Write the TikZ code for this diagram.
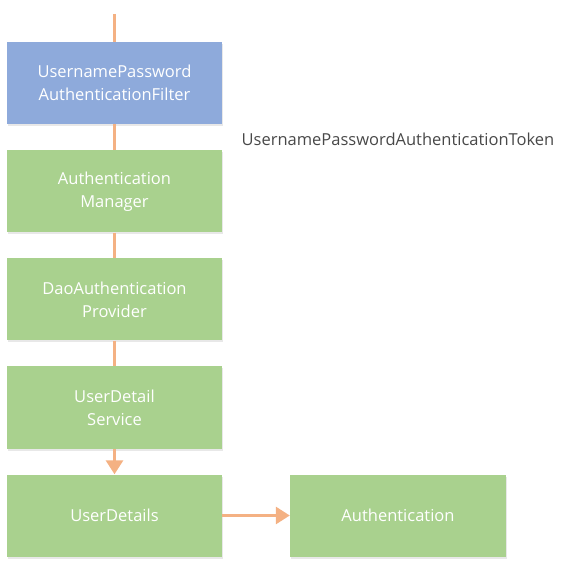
\documentclass[tikz,border=0pt]{standalone}
\usepackage{fontspec}
\setmainfont{Open Sans}
\usetikzlibrary{arrows.meta,shadows}

\definecolor{filterblue}{HTML}{8EAADB}
\definecolor{stepgreen}{HTML}{A9D18E}
\definecolor{flowline}{HTML}{F4B183}
\definecolor{labelgray}{HTML}{484848}

\tikzset{
    box/.style={draw=none,fill=stepgreen,minimum width=215pt,minimum height=82pt,
        inner sep=0pt,align=center,text=white,font=\fontsize{16.5pt}{23pt}\selectfont,
        drop shadow={opacity=0.18,shadow xshift=1pt,shadow yshift=-2pt}},
    flow/.style={draw=flowline,line width=3pt},
    flowarrow/.style={flow,-{Triangle[width=17pt,length=14pt]}}
}

\begin{document}
\begin{tikzpicture}[x=1pt,y=-1pt]

\useasboundingbox (0,0) rectangle (576,561);

\coordinate (top) at (114.5,14);

\node[box,fill=filterblue] (filter) at (114.5,83) {UsernamePassword\\AuthenticationFilter};
\node[box] (manager) at (114.5,191.5) {Authentication\\Manager};
\node[box] (provider) at (114.5,299.5) {DaoAuthentication\\Provider};
\node[box] (service) at (114.5,407.5) {UserDetail\\Service};
\node[box] (details) at (114.5,515.5) {UserDetails};
\node[box,minimum width=216pt] (auth) at (398,515.5) {Authentication};

\node[text=labelgray,font=\fontsize{16.5pt}{20pt}\selectfont] (token) at (398,139) {UsernamePasswordAuthenticationToken};

% connectors
\draw[flow] (top) -- (filter.north);
\foreach \a/\b in {filter/manager,manager/provider,provider/service} {
    \draw[flow] (\a.south) -- (\b.north);
}
\draw[flowarrow] (service.south) -- (details.north);
\draw[flowarrow] (details.east) -- (auth.west);

\end{tikzpicture}
\end{document}
